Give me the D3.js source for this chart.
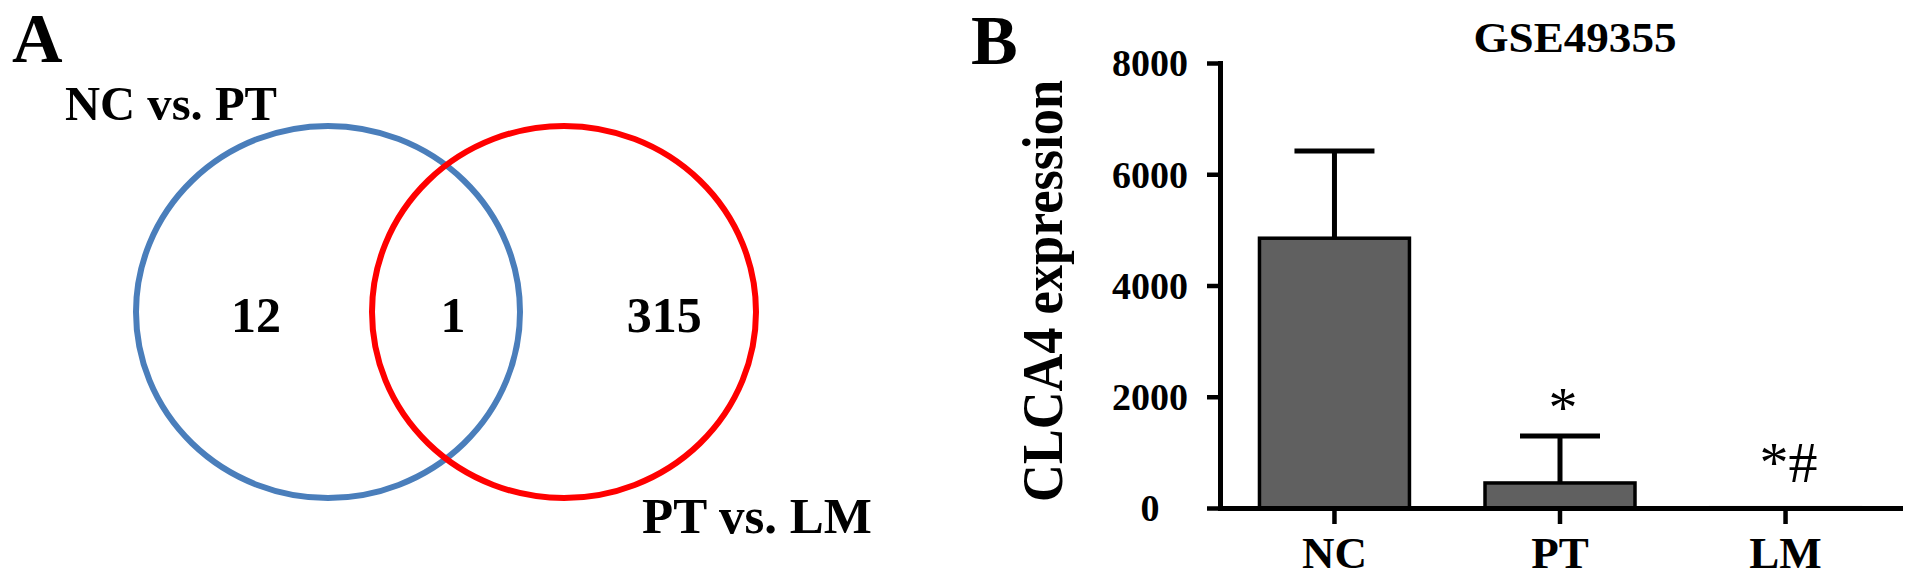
<!DOCTYPE html>
<html>
<head>
<meta charset="utf-8">
<script src="https://cdn.jsdelivr.net/npm/d3@7"></script>
<style>
  body { margin: 0; background: #fff; }
  svg { display: block; }
  svg text { font-family: "Liberation Serif", "Times New Roman", serif; font-weight: bold; }
</style>
</head>
<body>
<svg id="fig" width="1913" height="583"></svg>
<script>
// panel A - venn of DEG sets
var setNames = ["NC vs. PT", "PT vs. LM"];
var setColors = ["#4a7ebb", "#ff0000"];
var regionNames = ["NC vs. PT only", "both", "PT vs. LM only"];
var regionCounts = [12, 1, 315];

// panel B - CLCA4 expression in GSE49355
var groups = ["NC", "PT", "LM"];
var means = [4850, 450, 5];
var sds = [1570, 845, 0];
var marks = ["", "*", "*#"];
var yTicks = [0, 2000, 4000, 6000, 8000];

var svg = d3.select("#fig");

// ---------- A ----------
svg.append("text").attr("x", 12).attr("y", 62)
    .attr("font-size", 70).text("A");

// circle centres on a -1..1 unit axis
var vx = d3.scaleLinear().domain([-1, 1]).range([328, 564]);
var vy = 312;

svg.selectAll(".set")
    .data(setNames)
    .enter()
    .append("ellipse")
    .attr("class", "set")
    .attr("cx", function(d, i) { return vx(i === 0 ? -1 : 1); })
    .attr("cy", vy)
    .attr("rx", 192)
    .attr("ry", 186)
    .attr("fill", "none")
    .attr("stroke", function(d, i) { return setColors[i]; })
    .attr("stroke-width", 6);

// where the count sits for each region, in the same unit axis
var regionPos = [-1.61, 0.06, 1.85];
svg.selectAll(".count")
    .data(regionCounts)
    .enter()
    .append("text")
    .attr("class", "count")
    .attr("x", function(d, i) { return vx(regionPos[i]); })
    .attr("y", 332)
    .attr("text-anchor", "middle")
    .attr("font-size", 50)
    .text(function(d) { return d; });

svg.append("text").attr("x", 65).attr("y", 120)
    .attr("font-size", 48)
    .attr("textLength", 212)
    .attr("lengthAdjust", "spacingAndGlyphs")
    .text(setNames[0]);
svg.append("text").attr("x", 642).attr("y", 533)
    .attr("font-size", 50)
    .attr("textLength", 230)
    .attr("lengthAdjust", "spacingAndGlyphs")
    .text(setNames[1]);

// ---------- B ----------
svg.append("text").attr("x", 971).attr("y", 64)
    .attr("font-size", 70).text("B");

var x = d3.scaleBand()
    .domain(groups)
    .range([1220, 1900])
    .paddingInner(0.335)
    .paddingOuter(0.175);

var y = d3.scaleLinear()
    .domain([0, 8000])
    .range([508, 63]);

svg.append("text")
    .attr("x", 1575).attr("y", 52)
    .attr("text-anchor", "middle")
    .attr("font-size", 42)
    .attr("textLength", 203)
    .attr("lengthAdjust", "spacingAndGlyphs")
    .text("GSE49355");

svg.append("text")
    .attr("transform", "translate(1062,291) rotate(-90)")
    .attr("text-anchor", "middle")
    .attr("font-size", 58)
    .attr("textLength", 422)
    .attr("lengthAdjust", "spacingAndGlyphs")
    .text("CLCA4 expression");

// bars
svg.selectAll(".bar")
    .data(groups)
    .enter()
    .append("rect")
    .attr("class", "bar")
    .attr("x", function(d) { return x(d); })
    .attr("width", x.bandwidth())
    .attr("y", function(d, i) { return y(means[i]); })
    .attr("height", function(d, i) { return y(0) - y(means[i]); })
    .attr("fill", "#606060")
    .attr("stroke", "#000")
    .attr("stroke-width", 3.5);

// error bars (upper only)
var err = svg.selectAll(".err")
    .data(groups.filter(function(d, i) { return sds[i] > 0; }))
    .enter()
    .append("g")
    .attr("class", "err")
    .attr("stroke", "#000")
    .attr("stroke-width", 5);

err.append("line")
    .attr("x1", function(d) { return x(d) + x.bandwidth() / 2; })
    .attr("x2", function(d) { return x(d) + x.bandwidth() / 2; })
    .attr("y1", function(d) { var i = groups.indexOf(d); return y(means[i]); })
    .attr("y2", function(d) { var i = groups.indexOf(d); return y(means[i] + sds[i]); });

err.append("line")
    .attr("x1", function(d) { return x(d) + x.bandwidth() / 2 - 40; })
    .attr("x2", function(d) { return x(d) + x.bandwidth() / 2 + 40; })
    .attr("y1", function(d) { var i = groups.indexOf(d); return y(means[i] + sds[i]); })
    .attr("y2", function(d) { var i = groups.indexOf(d); return y(means[i] + sds[i]); });

// significance marks; gap above the error bar differs since the asterisk sits high
var markGap = [0, 9, 26];
svg.selectAll(".sig")
    .data(groups)
    .enter()
    .append("text")
    .attr("class", "sig")
    .attr("x", function(d) { return x(d) + x.bandwidth() / 2 + 3; })
    .attr("y", function(d, i) { return y(means[i] + sds[i]) - markGap[i]; })
    .attr("text-anchor", "middle")
    .attr("font-size", 58)
    .style("font-weight", "normal")
    .text(function(d, i) { return marks[i]; });

// axes
var yAxis = svg.append("g")
    .attr("transform", "translate(1220,0)")
    .call(d3.axisLeft(y).tickValues(yTicks).tickFormat(d3.format("d")).tickSize(13).tickSizeOuter(0));

var xAxis = svg.append("g")
    .attr("transform", "translate(0,508)")
    .call(d3.axisBottom(x).tickSize(16).tickSizeOuter(0));

[yAxis, xAxis].forEach(function(ax) {
  ax.select(".domain").attr("stroke", "#000").attr("stroke-width", 5).attr("stroke-linecap", "square");
  ax.selectAll(".tick line").attr("stroke", "#000").attr("stroke-width", 4.5);
  ax.selectAll(".tick text").attr("fill", "#000");
});

yAxis.selectAll(".tick text")
    .attr("x", -70)
    .attr("dy", "0.34em")
    .attr("text-anchor", "middle")
    .attr("font-size", 38);

xAxis.selectAll(".tick text")
    .attr("y", 60)
    .attr("dy", 0)
    .attr("font-size", 45);
</script>
</body>
</html>
